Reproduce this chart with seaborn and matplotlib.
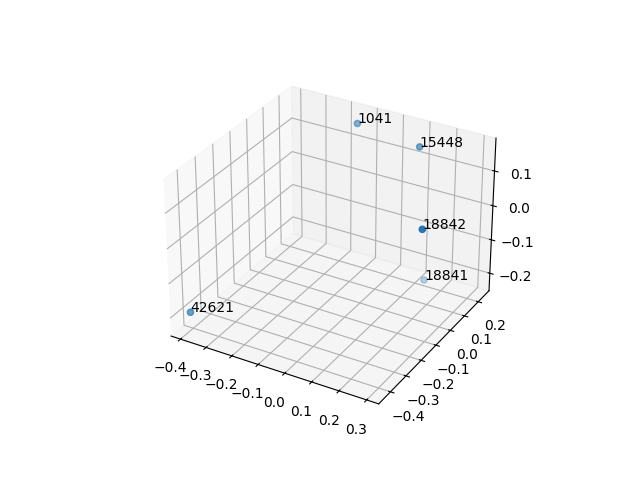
import matplotlib
matplotlib.use('Agg')
import matplotlib.pyplot as plt
import seaborn as sns

# point ids and their 3D coordinates
labels = ['42621', '18841', '18842', '1041', '15448']
xs = [-0.386, 0.123, 0.305, -0.114, 0.110]
ys = [-0.432, 0.224, -0.143, 0.172, 0.193]
zs = [-0.1885, -0.248, 0.088, 0.183, 0.153]

# axis ranges / ticks as shown
xlim = (-0.437, 0.343)
ylim = (-0.474, 0.28)
zlim = (-0.253, 0.193)
xticks = [-0.4, -0.3, -0.2, -0.1, 0.0, 0.1, 0.2, 0.3]

color = sns.color_palette('tab10')[0]

fig = plt.figure(figsize=(6.4, 4.8), dpi=100)
ax = fig.add_subplot(projection='3d')
ax.scatter(xs, ys, zs, color=color)

# label each point with its id
for x, y, z, lab in zip(xs, ys, zs, labels):
    ax.text(x, y, z, lab)

ax.set_xlim(*xlim)
ax.set_ylim(*ylim)
ax.set_zlim(*zlim)
ax.set_xticks(xticks)

plt.savefig('out.png')
